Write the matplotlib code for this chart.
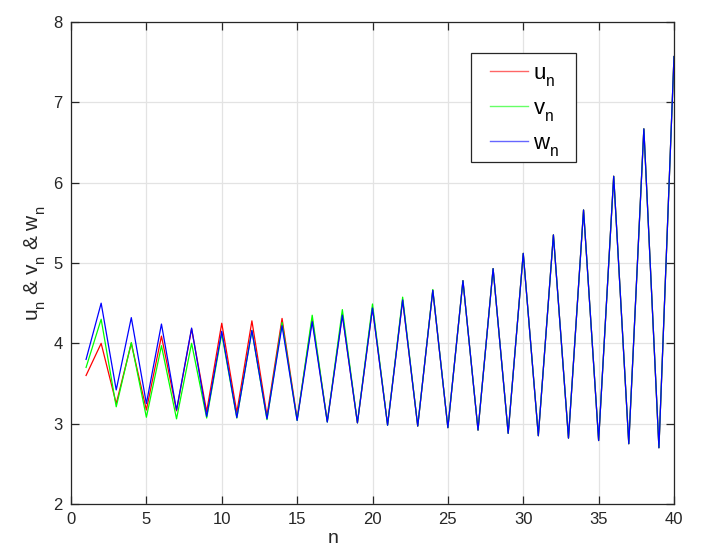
import matplotlib
matplotlib.use("Agg")
import matplotlib.pyplot as plt
from matplotlib.lines import Line2D
from matplotlib.patches import Rectangle
import matplotlib._mathtext as _mt

# lower subscripts, as in the reference's TeX-style labels
_mt.FontConstantsBase.sub1 = 0.65

plt.rcParams['font.family'] = ['Liberation Sans', 'DejaVu Sans']
plt.rcParams['mathtext.default'] = 'regular'

n = list(range(1, 41))
u = [3.60, 4.00, 3.25, 4.00, 3.17, 4.09, 3.16, 4.18, 3.15, 4.25,
     3.14, 4.28, 3.10, 4.31, 3.06, 4.30, 3.03, 4.36, 3.01, 4.44,
     2.99, 4.54, 2.97, 4.66, 2.95, 4.78, 2.92, 4.93, 2.88, 5.12,
     2.85, 5.35, 2.82, 5.66, 2.79, 6.08, 2.75, 6.67, 2.70, 7.57]
v = [3.70, 4.30, 3.21, 4.01, 3.08, 3.97, 3.06, 4.00, 3.07, 4.12,
     3.07, 4.16, 3.05, 4.26, 3.04, 4.35, 3.02, 4.42, 3.01, 4.49,
     2.98, 4.575, 2.97, 4.67, 2.95, 4.78, 2.92, 4.93, 2.88, 5.12,
     2.85, 5.35, 2.82, 5.66, 2.79, 6.08, 2.75, 6.67, 2.70, 7.57]
w = [3.80, 4.50, 3.42, 4.32, 3.25, 4.24, 3.17, 4.19, 3.09, 4.15,
     3.075, 4.16, 3.06, 4.22, 3.04, 4.27, 3.02, 4.35, 3.01, 4.44,
     2.98, 4.54, 2.97, 4.66, 2.95, 4.78, 2.92, 4.93, 2.88, 5.12,
     2.85, 5.35, 2.82, 5.66, 2.79, 6.08, 2.75, 6.67, 2.70, 7.57]
labels = ['$u_n$', '$v_n$', '$w_n$']
colors = ['#ff0000', '#00ff00', '#0000ff']
xticks = [0, 5, 10, 15, 20, 25, 30, 35, 40]
yticks = [2, 3, 4, 5, 6, 7, 8]

fig = plt.figure(figsize=(7.11, 5.56), dpi=100)
ax = fig.add_axes([71/711, 1-504/556, 603/711, 482/556])

for series, c in zip([u, v, w], colors):
    ax.plot(n, series, color=c, lw=0.9)

ax.set_xlim(0, 40)
ax.set_ylim(2, 8)
ax.set_xticks(xticks)
ax.set_yticks(yticks)
ax.grid(True, color='#e3e3e3', lw=0.9)
ax.set_axisbelow(True)
dark = '#262626'
for s in ax.spines.values():
    s.set_color(dark)
    s.set_linewidth(0.9)
ax.tick_params(direction='in', length=6, width=0.9, color=dark, labelcolor=dark,
               labelsize=12, top=True, right=True, pad=6)

ax.set_xlabel('n', fontsize=14, color=dark)
ax.xaxis.set_label_coords((333-71)/603, -0.053)
ax.set_ylabel('$u_n$ & $v_n$ & $w_n$', fontsize=15, color=dark, labelpad=4)

# legend box
box = Rectangle(((470.7-71)/603, (504-162.3)/482), (576-470.7)/603, (162.3-53.3)/482,
                transform=ax.transAxes, facecolor='white', edgecolor=dark,
                lw=0.9, zorder=5)
ax.add_patch(box)
handles = [Line2D([], [], color=c, lw=1.0, alpha=0.6) for c in colors]
leg = ax.legend(handles, labels, loc='upper left',
                bbox_to_anchor=((490-71)/603, (504-63)/482),
                fontsize=16, frameon=False, handlelength=1.72, handletextpad=0.22,
                labelspacing=0.42, borderpad=0, borderaxespad=0)
leg.set_zorder(6)

fig.savefig('out.png', dpi=100, facecolor='white')
